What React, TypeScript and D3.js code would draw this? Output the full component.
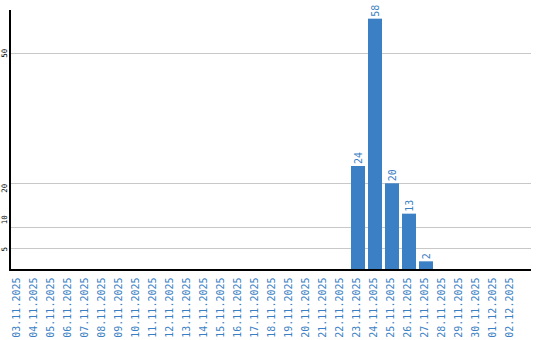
import React from "react";
import * as d3 from "d3";

const categories = [
  "03.11.2025","04.11.2025","05.11.2025","06.11.2025","07.11.2025","08.11.2025",
  "09.11.2025","10.11.2025","11.11.2025","12.11.2025","13.11.2025","14.11.2025",
  "15.11.2025","16.11.2025","17.11.2025","18.11.2025","19.11.2025","20.11.2025",
  "21.11.2025","22.11.2025","23.11.2025","24.11.2025","25.11.2025","26.11.2025",
  "27.11.2025","28.11.2025","29.11.2025","30.11.2025","01.12.2025","02.12.2025",
];
const values = [
  0,0,0,0,0,0,0,0,0,0,0,0,0,0,0,0,0,0,0,0,24,58,20,13,2,0,0,0,0,0,
];
const yTicks = [5, 10, 20, 50];

const BLUE = "#3b7fc4";
const FONT = "'DejaVu Sans Mono', 'Liberation Mono', monospace";
// label nudges (layout only) for y tick labels
const tickNudge: Record<number, number> = { 5: 1, 10: -7, 20: 5, 50: 0 };

export default function App() {
  const W = 540, H = 340;
  const left = 10, right = 531, bottom = 270, top = 10;
  const xb = d3.scaleBand<string>().domain(categories).range([9.5, 519.5]);
  const y = d3.scaleLinear().domain([0, 60]).range([bottom, top]);
  const bw = 14;
  return (
    <svg width={W} height={H} style={{ position: "absolute", left: 0, top: 0, background: "#fff" }}>
      {yTicks.map((t) => (
        <g key={t}>
          <line x1={left} x2={right} y1={Math.round(y(t)) + 0.5} y2={Math.round(y(t)) + 0.5} stroke="#c8c8c8" strokeWidth={1} />
          <text
            transform={`translate(7,${y(t) + tickNudge[t]}) rotate(-90)`}
            textAnchor="middle"
            fontFamily={FONT}
            fontSize={7.5}
            fill="#000"
          >
            {t}
          </text>
        </g>
      ))}
      {categories.map((c, i) => {
        const v = values[i];
        const cx = (xb(c) as number) + xb.bandwidth() / 2;
        const x0 = cx - bw / 2;
        return (
          <g key={c}>
            {v > 0 && (
              <>
                <rect x={x0} y={y(v)} width={bw} height={bottom - y(v)} fill={BLUE} />
                <text
                  transform={`translate(${cx + 3.5},${y(v) - 2}) rotate(-90)`}
                  textAnchor="start"
                  fontFamily={FONT}
                  fontSize={10}
                  fill={BLUE}
                >
                  {v}
                </text>
              </>
            )}
            <text
              transform={`translate(${cx + 2.2},277.5) rotate(-90)`}
              textAnchor="end"
              fontFamily={FONT}
              fontSize={10}
              fill={BLUE}
            >
              {c}
            </text>
          </g>
        );
      })}
      <line x1={left} x2={left} y1={top} y2={bottom + 1} stroke="#000" strokeWidth={2} />
      <line x1={left} x2={right} y1={bottom} y2={bottom} stroke="#000" strokeWidth={2} />
    </svg>
  );
}
